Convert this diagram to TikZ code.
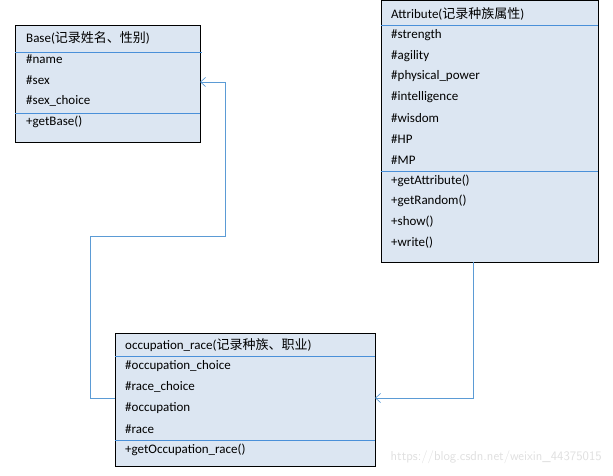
\documentclass[tikz,border=0pt]{standalone}
\usepackage{fontspec}
\setmainfont{Carlito}
\newfontfamily\cjk{Noto Sans CJK SC}
\usetikzlibrary{arrows.meta}
\definecolor{boxfill}{HTML}{DCE6F2}
\definecolor{sep}{HTML}{4A90D9}
\definecolor{conn}{HTML}{5B9BD5}
\tikzset{
  cls/.style={draw=black,fill=boxfill,line width=0.8pt},
  sepl/.style={draw=sep,line width=0.8pt},
  txt/.style={anchor=west,inner sep=0pt,font=\fontsize{13}{15}\selectfont},
  link/.style={draw=conn,line width=0.7pt,-{Straight Barb[length=5pt,width=9pt]}}
}
\begin{document}
\begin{tikzpicture}[x=1pt,y=-1pt]
\useasboundingbox (0,0) rectangle (613,476);
% Base
\draw[cls] (15,25) rectangle (200,142);
\coordinate (baseR) at (200,82);
\draw[sepl] (15,52) -- (202,52);
\draw[sepl] (15,113) -- (200,113);
\node[txt] (b0) at (26,38) {Base({\cjk 记录姓名、性别})};
\node[txt] (b1) at (26,59) {\#name};
\node[txt] (b2) at (26,80) {\#sex};
\node[txt] (b3) at (26,101) {\#sex\_choice};
\node[txt] (b4) at (26,122) {+getBase()};
% Attribute
\draw[cls] (381,0) rectangle (598,262);
\coordinate (attB) at (473,262);
\draw[sepl] (381,25) -- (598,25);
\draw[sepl] (381,171) -- (598,171);
\node[txt] (a0) at (391,14) {Attribute({\cjk 记录种族属性})};
\node[txt] (a1) at (391,35) {\#strength};
\node[txt] (a2) at (391,56) {\#agility};
\node[txt] (a3) at (391,76) {\#physical\_power};
\node[txt] (a4) at (391,97) {\#intelligence};
\node[txt] (a5) at (391,118) {\#wisdom};
\node[txt] (a6) at (391,139) {\#HP};
\node[txt] (a7) at (391,160) {\#MP};
\node[txt] (a8) at (391,181) {+getAttribute()};
\node[txt] (a9) at (391,201) {+getRandom()};
\node[txt] (a10) at (391,222) {+show()};
\node[txt] (a11) at (391,243) {+write()};
% occupation_race
\draw[cls] (115,333) rectangle (375,466);
\coordinate (occL) at (115,398);
\coordinate (occR) at (375,398);
\draw[sepl] (115,356) -- (375,356);
\draw[sepl] (115,440) -- (375,440);
\node[txt] (o0) at (125,345) {occupation\_race({\cjk 记录种族、职业})};
\node[txt] (o1) at (125,366) {\#occupation\_choice};
\node[txt] (o2) at (125,387) {\#race\_choice};
\node[txt] (o3) at (125,408) {\#occupation};
\node[txt] (o4) at (125,429) {\#race};
\node[txt] (o5) at (125,450) {+getOccupation\_race()};
% connectors
\draw[link] (occL) -- (90,398) -- (90,236) -- (225,236) -- (225,82) -- (baseR);
\draw[link] (attB) -- (473,398) -- (occR);
% watermark
\node[anchor=east,inner sep=0pt,text=gray!25,font=\sffamily\fontsize{13}{15}\selectfont] (wm) at (602,457) {https://blog.csdn.net/weixin\_44375015};
\end{tikzpicture}
\end{document}
